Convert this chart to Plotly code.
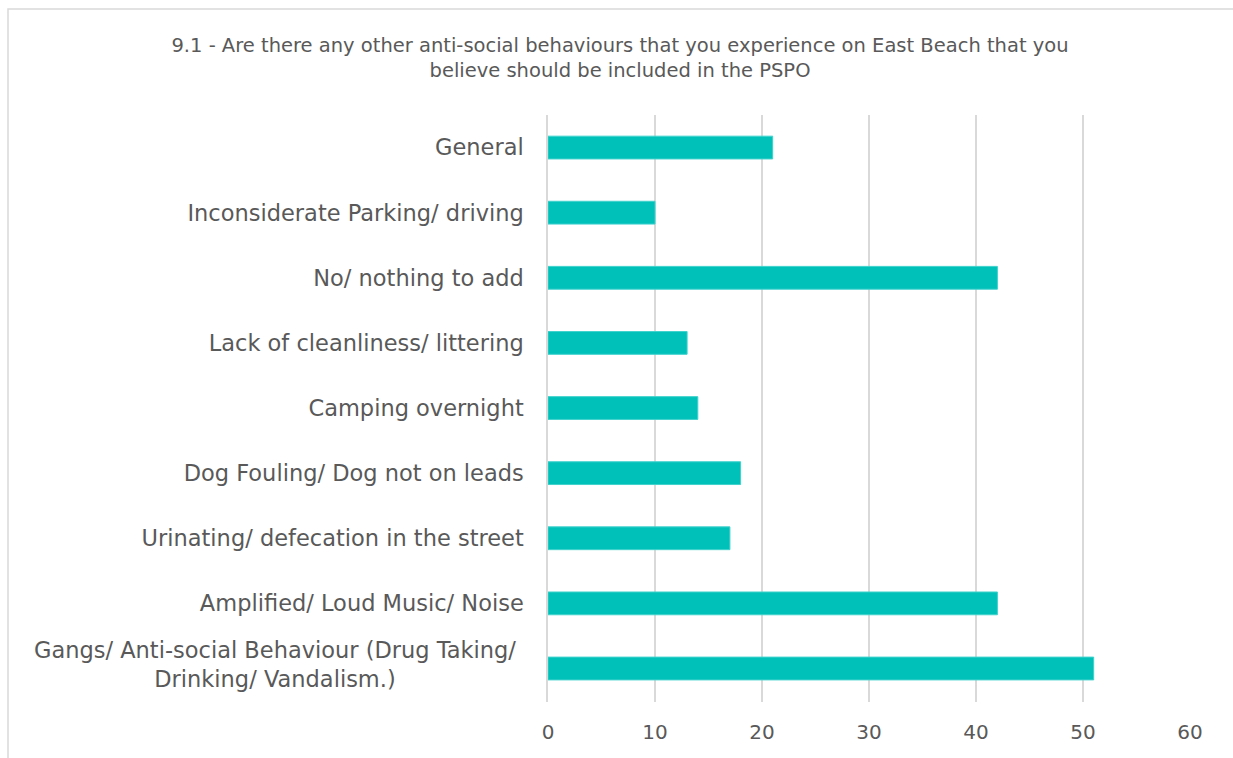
import plotly.graph_objects as go

# Survey responses, top row first
categories = [
    "General",
    "Inconsiderate Parking/ driving",
    "No/ nothing to add",
    "Lack of cleanliness/ littering",
    "Camping overnight",
    "Dog Fouling/ Dog not on leads",
    "Urinating/ defecation in the street",
    "Amplified/ Loud Music/ Noise",
    "Gangs/ Anti-social Behaviour (Drug Taking/<br>Drinking/ Vandalism.)",
]
counts = [21, 10, 42, 13, 14, 18, 17, 42, 51]
x_ticks = [0, 10, 20, 30, 40, 50, 60]

title_text = ("9.1 - Are there any other anti-social behaviours that you experience on East Beach that you"
              "<br>believe should be included in the PSPO")

W, H = 1233, 758
ML, MR, MT, MB = 548, 43, 115, 56
FONT = "'DejaVu Sans', sans-serif"
GREY = "#595959"
LABEL_SIZE = 22.5
TICK_SIZE = 20

# wrapped labels are drawn centred as annotations; single-line ones as tick labels
wrapped = [c for c in categories if "<br>" in c]
tick_text = ["" if c in wrapped else c for c in categories]

fig = go.Figure(go.Bar(
    x=counts,
    y=categories,
    orientation="h",
    marker=dict(color="#00C0BA", line=dict(color="#3FD2CC", width=1)),
    hoverinfo="x+y",
))

pw = W - ML - MR
ph = H - MT - MB
# outer chart frame (in plot-area paper coordinates)
fx0 = (8 - ML) / pw
fx1 = (1260 - ML) / pw
fy1 = (H - MB - 9) / ph
fy0 = (H - MB - 790) / ph

annotations = [
    dict(
        text=c, x=(275 - ML) / pw, xref="paper", y=c, yref="y",
        xanchor="center", yanchor="middle", align="center", yshift=4,
        showarrow=False, font=dict(size=LABEL_SIZE, color=GREY, family=FONT),
    )
    for c in wrapped
]

fig.update_layout(
    width=W, height=H,
    margin=dict(l=ML, r=MR, t=MT, b=MB),
    paper_bgcolor="white",
    plot_bgcolor="white",
    bargap=0.65,
    showlegend=False,
    font=dict(family=FONT, color=GREY),
    title=dict(
        text=title_text,
        x=620 / W, xanchor="center",
        yref="container", y=1 - 52 / H, yanchor="middle",
        font=dict(size=19.5, color=GREY, family=FONT),
    ),
    xaxis=dict(
        range=[0, 60],
        tickvals=x_ticks,
        showgrid=True, gridcolor="#D9D9D9", gridwidth=1.5,
        zeroline=False, showline=False,
        ticks="",
        tickfont=dict(size=TICK_SIZE, color=GREY, family=FONT),
        ticklabelstandoff=16,
        fixedrange=True,
    ),
    yaxis=dict(
        autorange="reversed",
        tickmode="array", tickvals=categories, ticktext=tick_text,
        showgrid=False, zeroline=False,
        showline=True, linecolor="#D9D9D9", linewidth=1.5,
        ticks="",
        tickfont=dict(size=LABEL_SIZE, color=GREY, family=FONT),
        ticklabelstandoff=18,
        fixedrange=True,
    ),
    annotations=annotations,
    shapes=[dict(
        type="rect", xref="paper", yref="paper",
        x0=fx0, x1=fx1, y0=fy0, y1=fy1,
        line=dict(color="#D9D9D9", width=1.5),
        fillcolor="rgba(0,0,0,0)", layer="below",
    )],
)

fig.write_html("out.html")
